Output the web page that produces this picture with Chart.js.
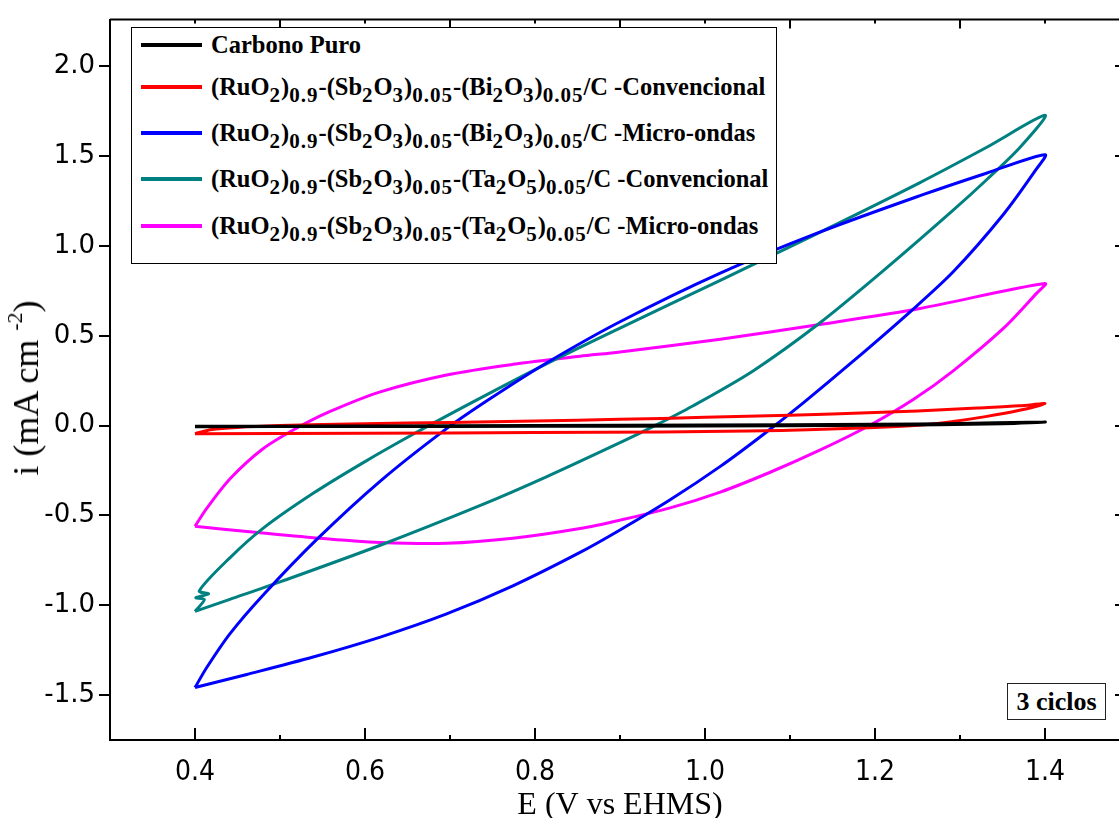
<!DOCTYPE html>
<html>
<head>
<meta charset="utf-8">
<script src="https://cdn.jsdelivr.net/npm/chart.js@4.4.1/dist/chart.umd.min.js"></script>
<style>
  html, body { margin: 0; padding: 0; background: #fff; overflow: hidden; }
  #wrap { position: absolute; left: 0; top: 0; width: 1135px; height: 818px; }
  #legend {
    position: absolute; left: 131px; top: 27px; width: 644px; height: 235px;
    border: 1px solid #000; background: #fff;
    font-family: "Liberation Serif", "Times New Roman", serif; font-weight: bold; font-size: 24.5px; color: #000;
  }
  #legend .row { position: absolute; left: 9px; height: 30px; white-space: nowrap; }
  #legend .swatch { position: absolute; left: 0; top: 13px; width: 61px; height: 4px; }
  #legend .txt { position: absolute; left: 70px; top: 0; line-height: 30px; }
  #legend sub { font-size: 21px; vertical-align: -0.35em; line-height: 0; letter-spacing: 1px; }
  #ytitle {
    position: absolute; left: 26px; top: 388px; white-space: nowrap;
    transform: translate(-50%, -50%) rotate(-90deg);
    font-family: "Liberation Serif", "Times New Roman", serif; font-size: 36px; color: #000;
  }
  #ytitle sup { font-size: 22px; vertical-align: 0.75em; line-height: 0; }
  #cycles {
    position: absolute; left: 1007px; top: 683px; width: 97px; height: 35px;
    border: 1px solid #222; background: #fff; text-align: center; line-height: 35px;
    font-family: "Liberation Serif", "Times New Roman", serif; font-weight: bold; font-size: 26px; color: #000;
  }
</style>
</head>
<body>
<div id="wrap">
  <canvas id="myChart" width="1135" height="818"></canvas>
  <div id="legend"></div>
  <div id="ytitle">i (mA cm <sup>-2</sup>)</div>
  <div id="cycles">3 ciclos</div>
</div>
<script>
// axis ticks
const xTickValues = [0.4, 0.6, 0.8, 1.0, 1.2, 1.4];
const xTickLabels = ['0.4', '0.6', '0.8', '1.0', '1.2', '1.4'];
const xMinorValues = [0.5, 0.7, 0.9, 1.1, 1.3];
const yTickValues = [-1.5, -1.0, -0.5, 0.0, 0.5, 1.0, 1.5, 2.0];
const yTickLabels = ['-1.5', '-1.0', '-0.5', '0.0', '0.5', '1.0', '1.5', '2.0'];

// Carbono Puro
const carbonoE = [0.40, 0.50, 0.60, 0.80, 1.00, 1.20, 1.30, 1.40, 1.35, 1.20, 1.00, 0.80, 0.60, 0.40];
const carbonoI = [-0.004, -0.003, -0.002, 0.000, 0.003, 0.007, 0.012, 0.020, 0.010, 0.002, -0.002, -0.004, -0.005, -0.006];

// Bi - convencional
const biConvE = [0.40, 0.42, 0.45, 0.50, 0.55, 0.65, 0.75, 0.85, 0.95, 1.05, 1.15, 1.25, 1.32, 1.37, 1.40,
                 1.37, 1.33, 1.29, 1.25, 1.20, 1.13, 1.05, 0.95, 0.80, 0.60, 0.40];
const biConvI = [-0.045, -0.022, -0.010, 0.000, 0.006, 0.014, 0.021, 0.030, 0.040, 0.052, 0.064, 0.082, 0.098, 0.110, 0.122,
                 0.085, 0.050, 0.022, 0.002, -0.010, -0.022, -0.030, -0.035, -0.039, -0.042, -0.045];

// Bi - micro-ondas
const biMicroE = [0.400, 0.414, 0.441, 0.480, 0.543, 0.618, 0.696, 0.747, 0.813, 0.900, 1.018, 1.135, 1.253, 1.331, 1.400,
                  1.390, 1.351, 1.292, 1.241, 1.174, 1.116, 1.069, 1.018, 0.959, 0.900, 0.853, 0.774, 0.696, 0.618, 0.539, 0.461, 0.400];
const biMicroI = [-1.458, -1.345, -1.159, -0.944, -0.635, -0.309, -0.017, 0.149, 0.347, 0.578, 0.849, 1.077, 1.280, 1.405, 1.508,
                  1.429, 1.175, 0.856, 0.632, 0.357, 0.128, -0.048, -0.227, -0.413, -0.581, -0.706, -0.892, -1.048, -1.177, -1.288, -1.385, -1.458];

// Ta - convencional
const taConvE = [0.400, 0.411, 0.401, 0.416, 0.405, 0.441, 0.480, 0.539, 0.598, 0.657, 0.730, 0.814, 0.900, 1.018, 1.135, 1.253, 1.331, 1.400,
                 1.371, 1.331, 1.292, 1.214, 1.135, 1.057, 0.985, 0.937, 0.905, 0.814, 0.735, 0.618, 0.500, 0.441, 0.400];
const taConvI = [-1.034, -0.968, -0.958, -0.937, -0.920, -0.736, -0.572, -0.377, -0.206, -0.047, 0.139, 0.345, 0.543, 0.809, 1.076, 1.353, 1.548, 1.727,
                 1.551, 1.367, 1.199, 0.879, 0.571, 0.306, 0.108, -0.010, -0.084, -0.284, -0.446, -0.666, -0.870, -0.967, -1.034];

// Ta - micro-ondas
const taMicroE = [0.400, 0.414, 0.441, 0.480, 0.520, 0.559, 0.618, 0.696, 0.774, 0.853, 0.900, 1.018, 1.135, 1.253, 1.400,
                  1.390, 1.351, 1.292, 1.245, 1.194, 1.135, 1.076, 1.018, 0.959, 0.900, 0.853, 0.774, 0.696, 0.618, 0.539, 0.461, 0.400];
const taMicroI = [-0.560, -0.459, -0.297, -0.129, -0.013, 0.079, 0.188, 0.282, 0.341, 0.386, 0.410, 0.481, 0.563, 0.652, 0.791,
                  0.736, 0.541, 0.305, 0.145, 0.002, -0.137, -0.261, -0.370, -0.458, -0.526, -0.573, -0.627, -0.655, -0.650, -0.624, -0.590, -0.560];

const seriesNames = [
  'Carbono Puro',
  '(RuO<sub>2</sub>)<sub>0.9</sub>-(Sb<sub>2</sub>O<sub>3</sub>)<sub>0.05</sub>-(Bi<sub>2</sub>O<sub>3</sub>)<sub>0.05</sub>/C -Convencional',
  '(RuO<sub>2</sub>)<sub>0.9</sub>-(Sb<sub>2</sub>O<sub>3</sub>)<sub>0.05</sub>-(Bi<sub>2</sub>O<sub>3</sub>)<sub>0.05</sub>/C -Micro-ondas',
  '(RuO<sub>2</sub>)<sub>0.9</sub>-(Sb<sub>2</sub>O<sub>3</sub>)<sub>0.05</sub>-(Ta<sub>2</sub>O<sub>5</sub>)<sub>0.05</sub>/C -Convencional',
  '(RuO<sub>2</sub>)<sub>0.9</sub>-(Sb<sub>2</sub>O<sub>3</sub>)<sub>0.05</sub>-(Ta<sub>2</sub>O<sub>5</sub>)<sub>0.05</sub>/C -Micro-ondas'
];
const seriesColors = ['#000000', '#ff0000', '#0000ff', '#008080', '#ff00ff'];
const seriesE = [carbonoE, biConvE, biMicroE, taConvE, taMicroE];
const seriesI = [carbonoI, biConvI, biMicroI, taConvI, taMicroI];

function toPoints(es, is) {
    return es.map(function (e, k) { return { x: e, y: is[k] }; });
}

// html legend (needs subscripts)
let legend = document.getElementById('legend');
let rowTops = [2, 44, 90, 136, 183];
seriesNames.forEach(function (name, k) {
    let row = document.createElement('div');
    row.className = 'row';
    row.style.top = rowTops[k] + 'px';
    row.innerHTML = '<div class="swatch" style="background:' + seriesColors[k] + '"></div><div class="txt">' + name + '</div>';
    legend.appendChild(row);
});

// frame + inward ticks (bottom, top, right)
const framePlugin = {
    id: 'frame',
    afterDraw(chart) {
        const ctx = chart.ctx;
        const a = chart.chartArea;
        const x = chart.scales.x;
        const y = chart.scales.y;
        ctx.save();
        ctx.strokeStyle = '#000';
        ctx.lineWidth = 2;
        ctx.beginPath();
        ctx.moveTo(a.left, a.top);
        ctx.lineTo(a.right, a.top);
        ctx.lineTo(a.right, a.bottom);
        xTickValues.forEach(function (v) {
            let px = Math.round(x.getPixelForValue(v));
            ctx.moveTo(px, a.bottom); ctx.lineTo(px, a.bottom - 12);
            ctx.moveTo(px, a.top); ctx.lineTo(px, a.top + 4);
        });
        xMinorValues.forEach(function (v) {
            let px = Math.round(x.getPixelForValue(v));
            ctx.moveTo(px, a.bottom); ctx.lineTo(px, a.bottom - 5);
            ctx.moveTo(px, a.top); ctx.lineTo(px, a.top + 9);
        });
        yTickValues.forEach(function (v) {
            let py = Math.round(y.getPixelForValue(v));
            ctx.moveTo(a.right, py); ctx.lineTo(a.right - 15, py);
        });
        ctx.stroke();
        ctx.restore();
    }
};

var ctx = document.getElementById('myChart').getContext('2d');
var myChart = new Chart(ctx, {
    type: 'scatter',
    data: {
        datasets: seriesE.map(function (es, k) {
            return {
                label: seriesNames[k].replace(/<[^>]+>/g, ''),
                data: toPoints(es, seriesI[k]),
                showLine: true,
                borderColor: seriesColors[k],
                backgroundColor: seriesColors[k],
                borderWidth: 3,
                pointRadius: 0,
                tension: 0.3,
                fill: false
            };
        })
    },
    options: {
        responsive: false,
        animation: false,
        devicePixelRatio: 1,
        layout: { padding: { left: 0, right: 5, top: 15, bottom: 0 } },
        plugins: { legend: { display: false }, tooltip: { enabled: false } },
        scales: {
            x: {
                type: 'linear',
                min: 0.3,
                max: 1.5,
                afterBuildTicks: function (s) { s.ticks = xTickValues.map(function (v) { return { value: v }; }); },
                afterFit: function (s) { s.height = 78; },
                grid: { display: false, drawTicks: false },
                border: { display: true, color: '#000', width: 2 },
                ticks: {
                    autoSkip: false,
                    maxRotation: 0,
                    padding: 16,
                    color: '#000',
                    font: { family: '"Liberation Sans Narrow", "DejaVu Sans Condensed", sans-serif', size: 28 },
                    callback: function (v, i) { return xTickLabels[i]; }
                },
                title: {
                    display: true,
                    text: 'E (V vs EHMS)',
                    color: '#000',
                    padding: { top: 0, bottom: 0 },
                    font: { family: '"Liberation Serif", serif', size: 32, lineHeight: 0.8 }
                }
            },
            y: {
                type: 'linear',
                min: -1.75,
                max: 2.26,
                afterBuildTicks: function (s) { s.ticks = yTickValues.map(function (v) { return { value: v }; }); },
                afterFit: function (s) { s.width = 110; },
                grid: { display: true, drawOnChartArea: false, drawTicks: true, tickLength: 11, lineWidth: 2, color: '#000' },
                border: { display: true, color: '#000', width: 2 },
                ticks: {
                    autoSkip: false,
                    padding: 4,
                    color: '#000',
                    font: { family: '"DejaVu Sans", sans-serif', size: 26 },
                    callback: function (v, i) { return yTickLabels[i]; }
                }
            }
        }
    },
    plugins: [framePlugin]
});
</script>
</body>
</html>
